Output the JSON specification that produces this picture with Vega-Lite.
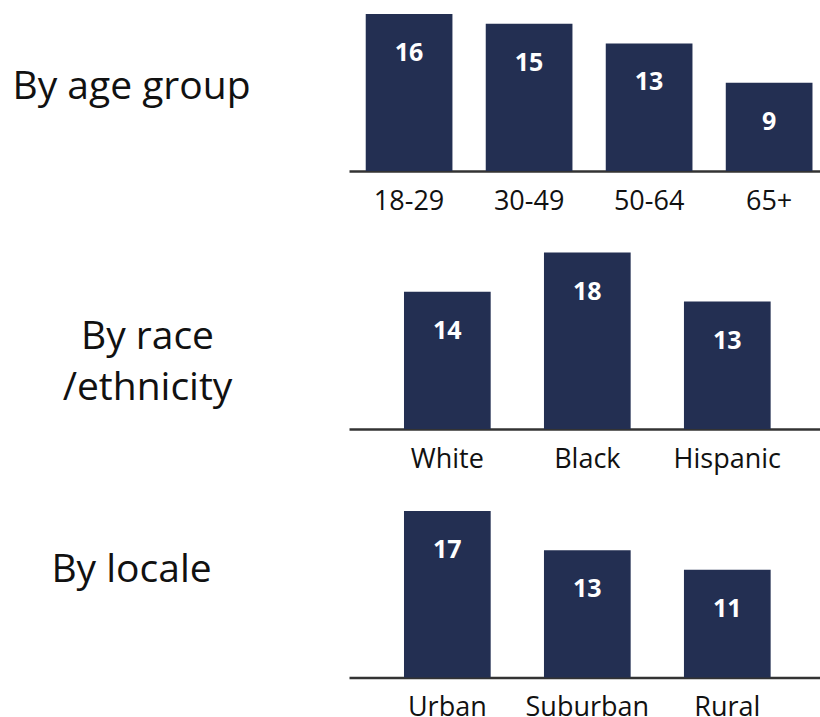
{
  "$schema": "https://vega.github.io/schema/vega-lite/v6.json",
  "autosize": {"type": "none"},
  "padding": {"left": 349, "top": 14, "right": 471, "bottom": 703},
  "background": "white",
  "bounds": "flush",
  "spacing": 81.5,
  "config": {
    "view": {"stroke": null},
    "font": "Open Sans",
    "axisX": {
      "domainColor": "#333333",
      "domainWidth": 2.5,
      "ticks": false,
      "tickSize": 0,
      "grid": false,
      "labelPadding": 17,
      "labelAngle": 0,
      "labelBaseline": "top",
      "labelFont": "Open Sans",
      "labelFontSize": 27,
      "labelColor": "#111111",
      "labelOverlap": false,
      "labelBound": false,
      "labelFlush": false
    },
    "axisY": {
      "domain": false,
      "ticks": false,
      "labels": false,
      "grid": false,
      "titleAngle": 0,
      "titleAlign": "center",
      "titleBaseline": "top",
      "titleLineHeight": 51,
      "titleFont": "Open Sans",
      "titleFontSize": 39,
      "titleFontWeight": "normal",
      "titleColor": "#111111"
    }
  },
  "vconcat": [
    {
      "width": 471,
      "height": 157,
      "data": {"values": [
        {"group": "18-29", "pct": 16},
        {"group": "30-49", "pct": 15},
        {"group": "50-64", "pct": 13},
        {"group": "65+", "pct": 9}
      ]},
      "encoding": {
        "x": {"field": "group", "type": "nominal", "sort": null,
              "scale": {"paddingInner": 0.2775, "paddingOuter": 0.101, "align": 0.69},
              "axis": {"title": null}},
        "y": {"field": "pct", "type": "quantitative",
              "scale": {"domain": [0, 16], "nice": false},
              "axis": {"title": "By age group", "titleX": -218, "titleY": 53}}
      },
      "layer": [
        {"mark": {"type": "bar", "color": "#232f52"}},
        {"mark": {"type": "text", "dy": 47, "color": "white", "fontWeight": "bold", "fontSize": 25, "baseline": "alphabetic", "font": "Open Sans"},
         "encoding": {"text": {"field": "pct", "type": "quantitative"}}}
      ]
    },
    {
      "width": 471,
      "height": 176.5,
      "data": {"values": [
        {"group": "White", "pct": 14},
        {"group": "Black", "pct": 18},
        {"group": "Hispanic", "pct": 13}
      ]},
      "encoding": {
        "x": {"field": "group", "type": "nominal", "sort": null,
              "scale": {"paddingInner": 0.3807, "paddingOuter": 0.3727, "align": 0.527},
              "axis": {"title": null}},
        "y": {"field": "pct", "type": "quantitative",
              "scale": {"domain": [0, 18], "nice": false},
              "axis": {"title": ["By race", "/ethnicity"], "titleX": -202, "titleY": 64.5}}
      },
      "layer": [
        {"mark": {"type": "bar", "color": "#232f52"}},
        {"mark": {"type": "text", "dy": 47, "color": "white", "fontWeight": "bold", "fontSize": 25, "baseline": "alphabetic", "font": "Open Sans"},
         "encoding": {"text": {"field": "pct", "type": "quantitative"}}}
      ]
    },
    {
      "width": 471,
      "height": 166.5,
      "data": {"values": [
        {"group": "Urban", "pct": 17},
        {"group": "Suburban", "pct": 13},
        {"group": "Rural", "pct": 11}
      ]},
      "encoding": {
        "x": {"field": "group", "type": "nominal", "sort": null,
              "scale": {"paddingInner": 0.3807, "paddingOuter": 0.3727, "align": 0.527},
              "axis": {"title": null}},
        "y": {"field": "pct", "type": "quantitative",
              "scale": {"domain": [0, 17], "nice": false},
              "axis": {"title": "By locale", "titleX": -218, "titleY": 39.5}}
      },
      "layer": [
        {"mark": {"type": "bar", "color": "#232f52"}},
        {"mark": {"type": "text", "dy": 47, "color": "white", "fontWeight": "bold", "fontSize": 25, "baseline": "alphabetic", "font": "Open Sans"},
         "encoding": {"text": {"field": "pct", "type": "quantitative"}}}
      ]
    }
  ]
}
